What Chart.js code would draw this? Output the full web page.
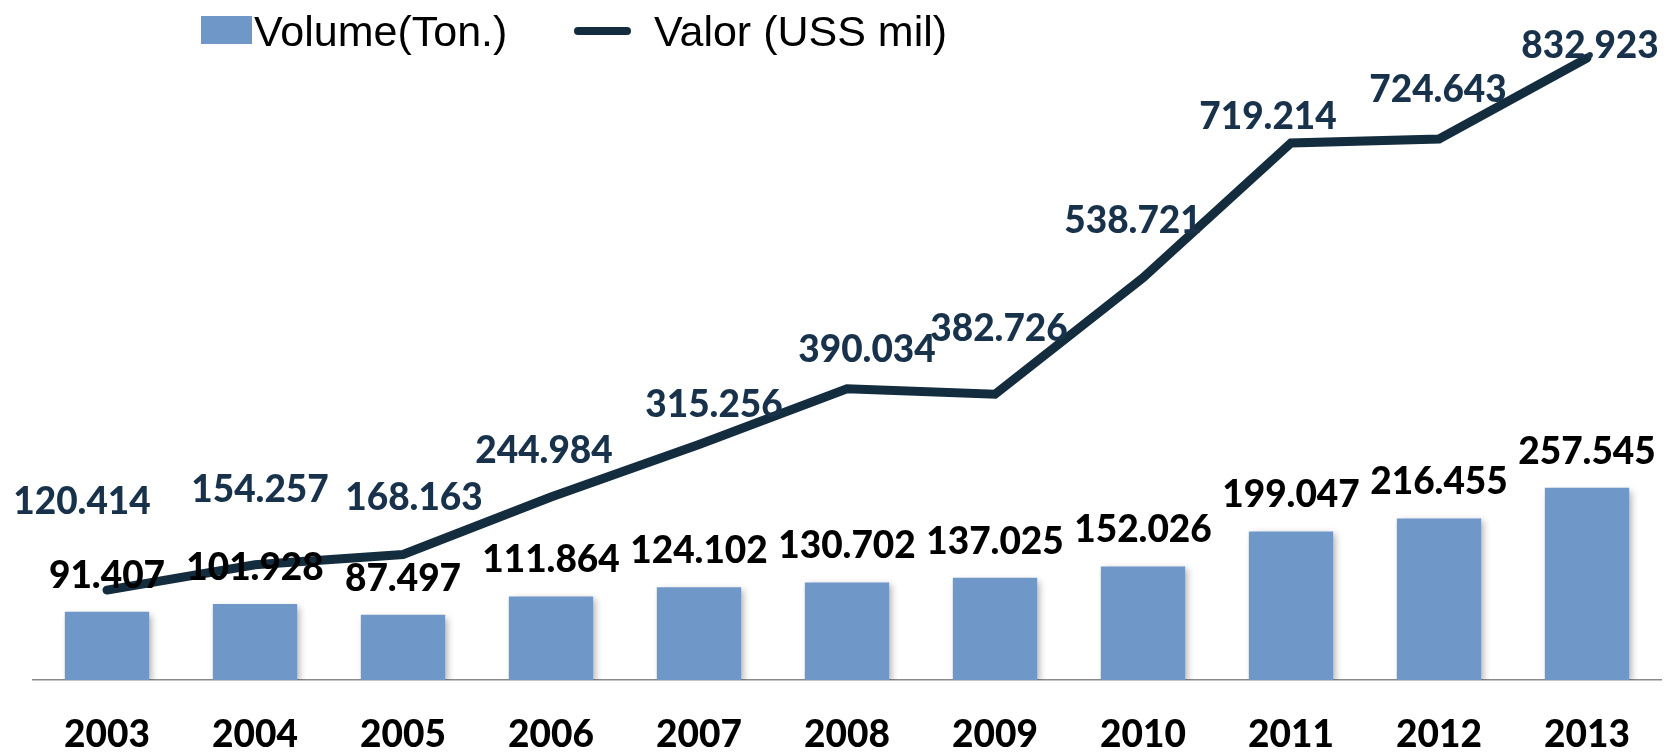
<!DOCTYPE html>
<html>
<head>
<meta charset="utf-8">
<script src="https://cdn.jsdelivr.net/npm/chart.js@4.4.1/dist/chart.umd.min.js"></script>
<style>
  body { margin: 0; background: #fff; }
  #wrap { position: relative; width: 1667px; height: 753px; }
  #legend { position: absolute; left: 201px; top: 0; height: 60px; font-family: "Liberation Sans", Arial, sans-serif; font-size: 43px; color: #000; }
  #legend .item { position: absolute; top: 7px; line-height: 49px; white-space: nowrap; }
  #legend .box { position: absolute; left: 0; top: 9px; width: 51px; height: 28px; }
  #legend .stroke { position: absolute; left: 0; top: 20px; width: 57px; height: 8px; border-radius: 4px; }
</style>
</head>
<body>
<div id="wrap">
  <canvas id="grafico"></canvas>
  <div id="legend"></div>
</div>
<script>
// dados
const anos = ['2003', '2004', '2005', '2006', '2007', '2008', '2009', '2010', '2011', '2012', '2013'];
const volume = [91407, 101928, 87497, 111864, 124102, 130702, 137025, 152026, 199047, 216455, 257545];
const valor = [120414, 154257, 168163, 244984, 315256, 390034, 382726, 538721, 719214, 724643, 832923];

// deslocamento dos rotulos da linha (px), como no original
const rotuloDx = [-25, 5, 11, -7, 15, 20, 4, -10, -23, -1, 3];
const rotuloDy = [-88, -75, -56, -46, -40, -39, -65, -57, -26, -49, -12];

const corBarra = '#6f97c8';
const corLinha = '#132c3e';
const corRotuloLinha = '#17324a';
const fonteRotulo = 'Lato, "Open Sans", sans-serif';

function milhar(v) {
  return String(v).replace(/\B(?=(\d{3})+(?!\d))/g, '.');
}

const sombraBarras = {
  id: 'sombraBarras',
  beforeDatasetDraw(chart, args) {
    if (args.meta.type === 'bar') {
      const ctx = chart.ctx;
      ctx.save();
      ctx.shadowColor = 'rgba(0,0,0,0.3)';
      ctx.shadowBlur = 7;
      ctx.shadowOffsetX = 3;
      ctx.shadowOffsetY = 3;
    }
  },
  afterDatasetDraw(chart, args) {
    if (args.meta.type === 'bar') chart.ctx.restore();
  }
};

const rotulos = {
  id: 'rotulos',
  afterDatasetsDraw(chart) {
    const ctx = chart.ctx;
    ctx.save();
    ctx.font = '900 37px ' + fonteRotulo;
    ctx.textAlign = 'center';
    ctx.textBaseline = 'middle';
    chart.data.datasets.forEach(function (ds, i) {
      const meta = chart.getDatasetMeta(i);
      meta.data.forEach(function (el, j) {
        if (meta.type === 'bar') {
          ctx.fillStyle = '#000';
          ctx.fillText(milhar(ds.data[j]), el.x, el.y - 36);
        } else {
          ctx.fillStyle = corRotuloLinha;
          ctx.fillText(milhar(ds.data[j]), el.x + rotuloDx[j], el.y + rotuloDy[j]);
        }
      });
    });
    ctx.restore();
  }
};

const ctx = document.getElementById('grafico').getContext('2d');

const grafico = new Chart(ctx, {
  type: 'bar',
  data: {
    labels: anos,
    datasets: [
      {
        type: 'bar',
        label: 'Volume(Ton.)',
        data: volume,
        backgroundColor: corBarra,
        categoryPercentage: 1,
        barPercentage: 0.57,
        order: 1
      },
      {
        type: 'line',
        label: 'Valor (USS mil)',
        data: valor,
        borderColor: corLinha,
        backgroundColor: corLinha,
        borderWidth: 9,
        borderCapStyle: 'round',
        borderJoinStyle: 'miter',
        pointRadius: 0,
        tension: 0,
        clip: false,
        order: 0
      }
    ]
  },
  options: {
    responsive: true,
    maintainAspectRatio: false,
    animation: false,
    layout: { padding: { top: 8, left: 33, right: 6, bottom: 0 } },
    plugins: {
      legend: { display: false },
      tooltip: { enabled: false }
    },
    scales: {
      x: {
        grid: { display: false, drawTicks: false },
        border: { display: true, color: '#8a8a8a', width: 1.5 },
        ticks: {
          color: '#000',
          padding: 36,
          font: { family: fonteRotulo, size: 37, weight: 900, lineHeight: 1.05 }
        },
        afterFit: function (scale) { scale.height = 73; }
      },
      y: {
        display: false,
        min: 0,
        max: 900000
      }
    }
  },
  plugins: [sombraBarras, rotulos]
});

// legenda em HTML a partir dos datasets
const legenda = document.getElementById('legend');
const posLegenda = [0, 373];
grafico.data.datasets.forEach(function (ds, i) {
  const item = document.createElement('div');
  item.className = 'item';
  item.style.left = posLegenda[i] + 'px';
  const marca = document.createElement('span');
  if (ds.type === 'bar') {
    marca.className = 'box';
    marca.style.background = ds.backgroundColor;
    item.style.paddingLeft = '53px';
  } else {
    marca.className = 'stroke';
    marca.style.background = ds.borderColor;
    item.style.paddingLeft = '80px';
  }
  item.appendChild(marca);
  item.appendChild(document.createTextNode(ds.label));
  legenda.appendChild(item);
});
</script>
</body>
</html>
